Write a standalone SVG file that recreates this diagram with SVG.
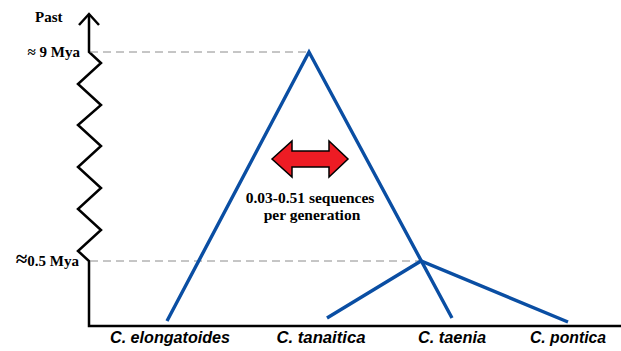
<svg xmlns="http://www.w3.org/2000/svg" width="621" height="351" viewBox="0 0 621 351">
<style>
.axis{fill:none;stroke:#000;stroke-width:2.5;stroke-linejoin:miter}
.dash{fill:none;stroke:#8c8c8c;stroke-width:1;stroke-dasharray:8,5}
.branch{fill:none;stroke:#0a4ea3;stroke-width:3.4;stroke-linecap:butt}
.tl{font-family:"Liberation Serif","Times New Roman",serif;font-weight:bold;font-size:15px;fill:#000}
.sp{font-family:"Liberation Sans",Arial,sans-serif;font-weight:bold;font-style:italic;font-size:16px;fill:#000;text-anchor:middle}
.mid{font-family:"Liberation Serif","Times New Roman",serif;font-weight:bold;font-size:15.5px;fill:#000;text-anchor:middle}
</style>
<rect width="621" height="351" fill="#fff"/>
<g id="axes">
<path class="axis" d="M89,15 V52 L101,63 L78,84 L101,105 L78,125 L101,146 L78,167 L101,188 L78,209 L101,230 L78,251 L89,261 V326 H621"/>
<path class="axis" d="M79,25 L89,14 L99,25"/>
<text class="tl" x="35" y="22">Past</text>
<text class="tl" x="80" y="57" text-anchor="end">≈ 9 Mya</text>
<text class="tl" x="79" y="266" text-anchor="end"><tspan font-size="21">≈</tspan>0.5 Mya</text>
</g>
<g id="connectors">
<line class="dash" x1="90" y1="52" x2="308" y2="52"/>
<line class="dash" x1="90" y1="261" x2="420" y2="261"/>
<polyline class="branch" points="167,321 309,52 452,318"/>
<polyline class="branch" points="327,318 421,261 568,322"/>
</g>
<g id="arrow">
<path d="M272,159 L292,141 L292,151 L329,151 L329,141 L348,159 L329,177 L329,167 L292,167 L292,177 Z" fill="#ed1c24" stroke="#000" stroke-width="1.5" stroke-linejoin="miter"/>
<text class="mid" x="310" y="203">0.03-0.51 sequences</text>
<text class="mid" x="312" y="220">per generation</text>
</g>
<g id="elongatoides"><text class="sp" x="170" y="343" textLength="120" lengthAdjust="spacingAndGlyphs">C. elongatoides</text></g>
<g id="tanaitica"><text class="sp" x="321" y="343" textLength="89" lengthAdjust="spacingAndGlyphs">C. tanaitica</text></g>
<g id="taenia"><text class="sp" x="452" y="343" textLength="68" lengthAdjust="spacingAndGlyphs">C. taenia</text></g>
<g id="pontica"><text class="sp" x="568" y="343" textLength="76" lengthAdjust="spacingAndGlyphs">C. pontica</text></g>
</svg>
